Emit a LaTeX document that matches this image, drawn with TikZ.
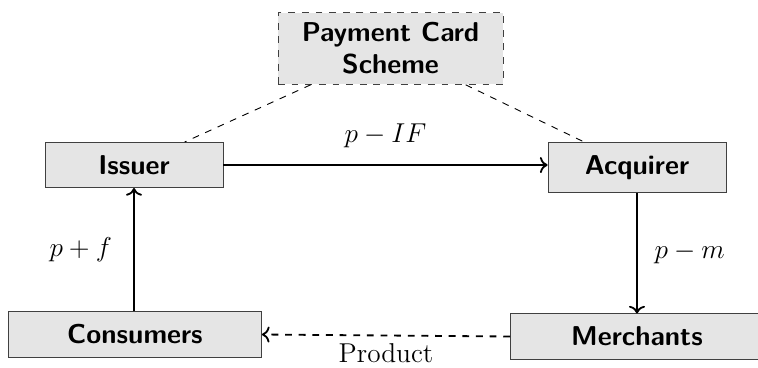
\documentclass[tikz,border=0pt]{standalone}
\usepackage{amsmath,amssymb}
\usepackage{tikz}
\usetikzlibrary{arrows.meta, positioning}
\usepackage{xcolor}

\tikzset{
    party/.style={draw=black!75, fill=gray!20, font=\large\sffamily\bfseries,
        minimum width=78.3pt, inner ysep=5.7pt},
    wideparty/.style={party, minimum width=111.3pt},
}

\begin{document}
\begin{tikzpicture}[x=0.44pt, y=-0.44pt]
    \useasboundingbox (0,0) rectangle (758,367);

    \node[party, dashed, align=center, minimum width=99pt, inner ysep=4.4pt]
        (scheme) at (390.5,48.5) {Payment Card\\Scheme};
    \node[party, anchor=north] (issuer) at (134,142) {Issuer};
    \node[party, anchor=north] (acquirer) at (637,142) {Acquirer};
    \node[wideparty] (consumers) at (135,334.5) {Consumers};
    \node[wideparty] (merchants) at (637,336.5) {Merchants};

    \draw[dashed] (scheme) -- (issuer);
    \draw[dashed] (scheme) -- (acquirer);

    \draw[->, thick] (issuer.east) -- node[above=4pt, font=\large] {$p-IF$} (acquirer.west |- issuer.east);
    \draw[->, thick] (consumers.north -| issuer.south) -- node[left=6pt, font=\large] {$p+f$} (issuer.south);
    \draw[->, thick] (acquirer.south) -- node[right=4pt, font=\large] {$p-m$} (merchants.north -| acquirer.south);
    \draw[->, thick, dashed] (merchants.west) -- node[below=0pt, font=\large] {Product} (consumers.east);
\end{tikzpicture}
\end{document}
